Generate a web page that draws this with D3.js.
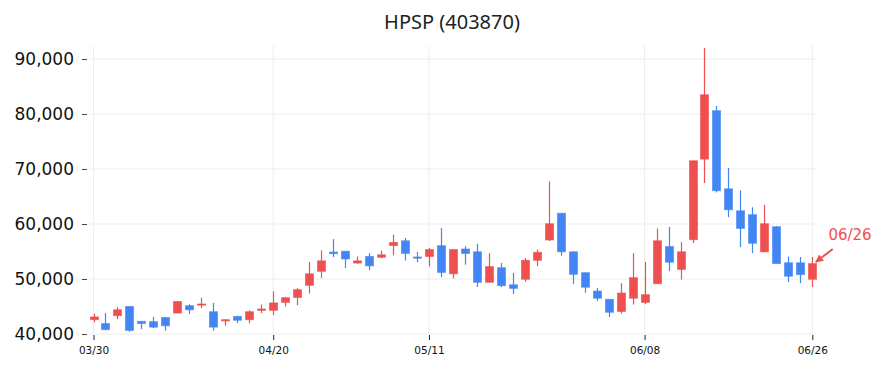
<!DOCTYPE html>
<html>
<head>
<meta charset="utf-8">
<script src="https://cdn.jsdelivr.net/npm/d3@7"></script>
<style>
  body { margin: 0; background: #fff; }
  svg { display: block; }
</style>
</head>
<body>
<div class="chart"></div>
<script>
// OHLC per trading day (index 0 = 03/30 ... index 60 = 06/26)
const opens  = [42600,41900,43350,45000,42300,42250,43000,43800,45150,45250,44050,42400,43200,42600,44300,44300,45750,46650,48850,51400,
                54900,55050,52900,54100,53950,56100,56950,54000,54100,56050,50950,55450,54950,49400,52050,48950,49950,53400,57100,61950,
                54950,51150,47800,46300,44100,46500,45750,49150,55900,51750,57150,71800,80600,66400,62400,61700,54950,59500,52950,52950,49950]
const highs  = [43700,43800,44850,45000,42300,43100,43000,45900,45400,46600,45650,42700,43300,44300,45350,47750,46700,48350,53100,55200,
                57250,55050,54100,54700,55150,58050,57450,54900,55650,59250,55350,55950,56400,54700,52900,51100,53800,55350,67750,62000,
                54950,51150,48350,46300,49250,54700,53100,59200,59450,56750,71500,92000,81450,70200,66100,63050,63500,59650,54100,54000,54000]
const lows   = [42100,40700,42700,40400,40900,41100,40600,43800,43650,44700,40600,41500,42000,41950,43800,43450,45000,45250,47350,50200,
                54000,52000,52800,51600,53800,54300,53350,53050,52300,50350,50100,52600,48550,49400,48550,47250,49500,52350,56900,54250,
                49100,47500,46000,43100,43700,45350,45450,49150,51450,49900,56550,67450,65750,61250,55800,54700,54850,52800,49450,49250,48550]
const closes = [43100,40800,44400,40650,41900,41250,41500,45900,44400,45450,41250,42600,42500,44050,44550,45650,46600,48050,50950,53300,
                54600,53650,53300,52400,54400,56650,54650,53800,55350,51200,55350,54650,49400,52250,48800,48300,53400,54850,60050,54950,
                50850,48500,46500,43950,47450,50250,47150,56950,53050,54950,71500,83500,66050,62600,59200,56500,60050,52800,50500,50800,52800]

const tickIndex  = [0, 15, 28, 46, 60]
const tickLabels = ["03/30", "04/20", "05/11", "06/08", "06/26"]
const yTicks = [40000, 50000, 60000, 70000, 80000, 90000]

const title = "HPSP (403870)"
const lastLabel = "06/26"

const width = 883, height = 372
const upColor = "#ef4f4f", downColor = "#4285f4"

const data = opens.map((o, i) => ({ i: i, o: o, h: highs[i], l: lows[i], c: closes[i] }))

const svg = d3.select(".chart").append("svg")
  .attr("width", width)
  .attr("height", height)
  .attr("viewBox", [0, 0, width, height])

const plotLeft = 89, plotRight = 817, plotTop = 46, plotBottom = 334

const x = d3.scaleLinear().domain([0, 60]).range([93.5, 812.3])
const y = d3.scaleLinear().domain([40000, 92364]).range([plotBottom, plotTop])

// title
svg.append("text")
  .attr("x", 452).attr("y", 29)
  .attr("text-anchor", "middle")
  .style("font-family", "'Noto Sans', sans-serif")
  .style("font-size", "20px")
  .style("fill", "#222")
  .text(title)

// gridlines
const grid = svg.append("g")
grid.selectAll(".hgrid")
  .data(yTicks)
  .join("line")
  .attr("x1", plotLeft).attr("x2", plotRight)
  .attr("y1", d => y(d)).attr("y2", d => y(d))
  .style("stroke", "#ededed").style("stroke-width", 1)
grid.selectAll(".vgrid")
  .data(tickIndex)
  .join("line")
  .attr("x1", d => x(d)).attr("x2", d => x(d))
  .attr("y1", plotTop).attr("y2", plotBottom)
  .style("stroke", "#ededed").style("stroke-width", 1)

// y axis
const yAxis = svg.append("g")
  .attr("transform", `translate(${plotLeft - 2},0)`)
  .call(d3.axisLeft(y).tickValues(yTicks).tickSize(5).tickPadding(8).tickFormat(d3.format(",")))
yAxis.select(".domain").remove()
yAxis.selectAll(".tick line").style("stroke", "#444")
yAxis.selectAll("text")
  .style("font-family", "'DejaVu Sans', sans-serif")
  .style("font-size", "17px")
  .style("fill", "#111")

// x axis
const xAxis = svg.append("g")
  .attr("transform", `translate(0,${plotBottom + 1})`)
  .call(d3.axisBottom(x).tickValues(tickIndex).tickSize(5).tickPadding(7).tickFormat((d, k) => tickLabels[k]))
xAxis.select(".domain").remove()
xAxis.selectAll(".tick line").style("stroke", "#222")
xAxis.selectAll("text")
  .style("font-family", "'DejaVu Sans', sans-serif")
  .style("font-size", "10.5px")
  .style("fill", "#111")

// candles
const candles = svg.append("g").selectAll(".candle")
  .data(data)
  .join("g")
  .attr("class", "candle")
  .style("--c", d => d.c >= d.o ? upColor : downColor)

candles.append("line")
  .attr("x1", d => Math.round(x(d.i)) + 0.5).attr("x2", d => Math.round(x(d.i)) + 0.5)
  .attr("y1", d => y(d.h)).attr("y2", d => y(d.l))
  .style("stroke", d => d.c >= d.o ? upColor : downColor)
  .style("stroke-width", 1.2)

candles.append("rect")
  .attr("x", d => Math.round(x(d.i)) + 0.5 - 4)
  .attr("width", 8)
  .attr("y", d => y(Math.max(d.o, d.c)))
  .attr("height", d => Math.max(1.2, y(Math.min(d.o, d.c)) - y(Math.max(d.o, d.c))))
  .style("fill", d => d.c >= d.o ? upColor : downColor)
  .style("stroke", d => d.c >= d.o ? upColor : downColor)
  .style("stroke-opacity", 0.6)
  .style("stroke-width", 1)

// annotation on the last candle
const last = data[data.length - 1]
const ax = x(last.i) + 3.5, ay = y(last.h) + 5
svg.append("defs").append("marker")
  .attr("id", "arrow")
  .attr("viewBox", "0 0 10 10")
  .attr("refX", 9).attr("refY", 5)
  .attr("markerWidth", 4).attr("markerHeight", 4)
  .attr("orient", "auto")
  .append("path")
  .attr("d", "M0,0 L10,5 L0,10 z")
  .style("fill", upColor)

svg.append("line")
  .attr("x1", ax + 17).attr("y1", ay - 13)
  .attr("x2", ax).attr("y2", ay)
  .style("stroke", upColor)
  .style("stroke-width", 2)
  .attr("marker-end", "url(#arrow)")

svg.append("text")
  .attr("x", 850).attr("y", 240)
  .attr("text-anchor", "middle")
  .style("font-family", "'DejaVu Sans', sans-serif")
  .style("font-size", "15px")
  .style("fill", upColor)
  .text(lastLabel)
</script>
</body>
</html>
